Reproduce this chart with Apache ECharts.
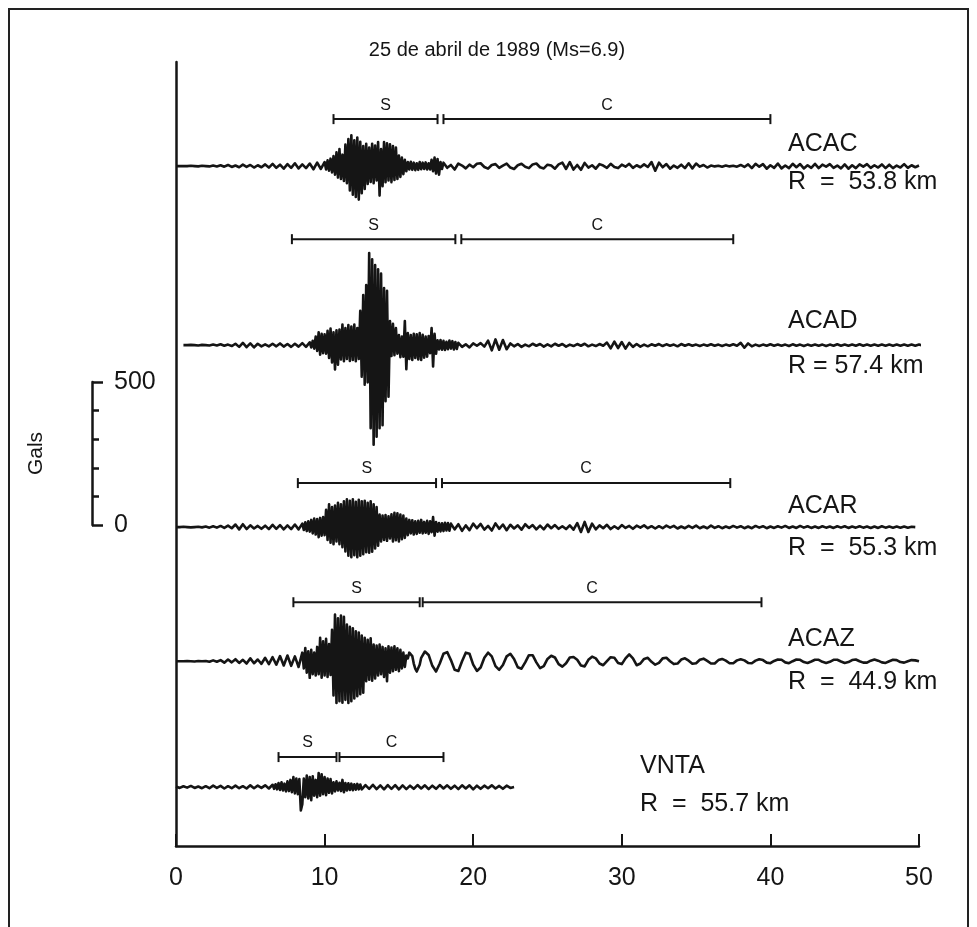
<!DOCTYPE html>
<html><head><meta charset="utf-8">
<script src="https://cdn.jsdelivr.net/npm/echarts@6/dist/echarts.min.js"></script>
<style>html,body{margin:0;padding:0;background:#fff}#c{width:977px;height:927px}</style>
</head><body><div id="c"></div>
<script>
// ---------------- DATA ----------------
const chartTitle = '25 de abril de 1989 (Ms=6.9)';
const stations = ['ACAC', 'ACAD', 'ACAR', 'ACAZ', 'VNTA'];
const distances = ['R  =  53.8 km', 'R = 57.4 km', 'R  =  55.3 km', 'R  =  44.9 km', 'R  =  55.7 km'];
const xTickLabels = [0, 10, 20, 30, 40, 50];
const scaleLabels = [0, 500];           // Gals scale bar
const axisNameY = 'Gals';
// S and C windows (seconds)
const sWindows = [[10.6, 17.6], [7.8, 18.8], [8.2, 17.5], [7.9, 16.4], [6.9, 10.8]];
const cWindows = [[18.0, 40.0], [19.2, 37.5], [17.9, 37.3], [16.6, 39.4], [11.0, 18.0]];

// Accelerograms (Gals). Each: start times of [pre, burst, post] pieces;
// pre/post sampled every 0.25 s, burst every 0.1 s.
const acacSeg = [0, 10, 18];
const acacPre = [0,0,0,0,1,0,-1,1,0,-1,2,-1, 3,-2,4,-3,2,-4,5,-3,4,-5,3,-4, 6,-5,8,-6,5,-9,7,-6,10,-8,6,-7, 9,-11,12,-10];
const acacBurst = [
 14,-12,20,-16,26,-22,35,-30,48,-40,
 60,-45,40,-52,75,-60,95,-85,108,-100,
 90,-108,100,-117,85,-95,70,-80,78,-62,
 65,-55,78,-60,72,-50,84,-103,60,-70,
 84,-56,80,-50,76,-56,70,-48,65,-45,
 37,-38,30,-28,22,-18,14,-12,15,-13,
 12,-14,10,-13,14,-11,12,-10,13,-12,
 10,-12,22,-18,30,-26,25,-30,14,-10];
const acacPost = [
 12,-6,4,-12,9,2,-8,5, -4,8,10,-3,-9,4,7,-6, 2,9,-5,-10,3,8,-2,-7, 6,9,-4,-8,5,2,-9,6,
 12,-10,14,-12,4,-13,11,-5, 3,-9,7,2,-6,8,-3,-7, 5,-2,8,-6,3,-4,6,-3, 14,-16,12,-4,7,-9,2,-6,
 5,-7,10,-8,9,-2,4,-5, 2,-1,1,-2,2,-1,1,-2, 4,-3,6,-7,8,-2,7,-9, 3,-6,9,-8,2,-7,8,-4,
 7,-8,3,-6,8,-7,5,-2, 7,-6,2,-8,6,-9,3,-7, 6,-2,7,-6,3,-5,6,-7, 5,-7,2,-5,7,-6,3,-4, 2];

const acadSeg = [0.5, 9, 19];
const acadPre = [0,0,1,0,-1,1,0,-1, 2,-1,3,-2,2,-3,5,-6, 8,-7,6,-8,5,-4,3,-4, 5,-4,6,-5,4,-6,5,-5, 7,-6];
const acadBurst = [
 10,-8,15,-12,30,-20,45,-33,40,-28,
 38,-30,50,-45,58,-60,45,-85,52,-68,
 55,-50,72,-56,60,-48,70,-55,65,-52,
 72,-56,60,-48,120,-110,175,-138,210,-130,
 322,-290,300,-348,280,-320,265,-290,250,-280,
 200,-196,190,-180,84,-38,75,-35,60,-30,
 35,-42,30,-40,84,-84,42,-48,35,-52,
 40,-45,38,-50,42,-52,36,-44,30,-40,
 32,-28,60,-74,40,-30,17,-15,18,-16,
 15,-17,12,-14,16,-12,14,-15,11,-13];
const acadPost = [
 8,-6,3,-8,6,-2,7,-5, 16,-18,20,-16,18,-14,6,-4, 4,-6,2,-4,5,-2,4,-5, 3,-4,5,-2,4,-5,2,-3,
 4,-2,5,-4,2,-3,4,-2, 9,-11,12,-10,11,-12,8,-6, 4,-5,2,-4,3,-2,4,-3, 3,-2,2,-4,4,-2,3,-2,
 2,-3,2,-2,3,-2,2,-3, 2,-2,3,-2,8,-9,6,-4, 2,-3,2,-2,3,-2,2,-2, 2,-3,3,-2,2,-3,2,-2,
 2,-2,2,-3,2,-2,3,-2, 2,-2,2,-2,3,-2,2,-2, 2,-2,2,-2,2,-2,2,-2, 2,-2,2,-2,2,-2,2,-2, 2,-1,1,0];

const acarSeg = [0, 8.5, 18.5];
const acarPre = [0,0,1,0,-1,0,1,-1, 2,-2,3,-2,4,-3,5,-4, 9,-8,10,-7,6,-5,4,-6, 5,-7,8,-6,7,-8,6,-7, 9,-8];
const acarBurst = [
 12,-10,17,-14,20,-16,25,-22,30,-26,
 28,-35,32,-30,35,-28,60,-45,80,-55,
 70,-60,75,-50,85,-60,80,-70,90,-85,
 97,-100,92,-105,97,-98,88,-105,95,-100,
 90,-95,92,-88,85,-90,90,-86,80,-75,
 70,-65,44,-50,40,-45,42,-48,38,-40,
 45,-50,50,-46,48,-50,44,-42,40,-38,
 30,-28,25,-22,24,-26,20,-24,22,-20,
 25,-22,18,-20,22,-24,20,-18,35,-30,
 18,-16,14,-15,13,-14,15,-12,14,-13];
const acarPost = [
 12,-8,10,-13,6,-11,12,-4, 11,-9,4,-12,13,-6,9,-11, 8,-5,6,-9,10,-3,7,-8, 5,-8,9,-4,7,-6,3,-7,
 6,-9,14,-17,18,-17,12,-8, 6,-4,8,-7,3,-6,7,-3, 4,-6,5,-2,6,-4,3,-5, 3,-4,5,-2,4,-5,2,-4,
 4,-3,5,-4,2,-4,5,-3, 3,-4,2,-3,4,-2,3,-4, 2,-4,4,-2,3,-4,2,-3, 3,-2,4,-3,2,-3,4,-2,
 3,-3,2,-3,3,-2,2,-3, 3,-2,3,-3,2,-2,3,-2, 2,-3,2,-3,3,-2,2,-2, 2,-2,2,-2,1,0];

const acazSeg = [0, 8.5, 16.5];
const acazPre = [0,0,0,1,0,-1,1,0, 1,-2,3,-2,4,-5,6,-4, 7,-6,5,-8,10,-7,6,-9, 12,-10,14,-12,18,-15,20,-16, 17,-20];
const acazBurst = [
 30,-25,46,-40,35,-58,40,-45,30,-50,
 50,-45,82,-58,70,-50,78,-55,60,-48,
 110,-120,163,-146,150,-140,160,-145,155,-135,
 128,-146,120,-140,115,-130,105,-122,100,-115,
 90,-110,82,-70,75,-65,80,-68,58,-60,
 55,-50,58,-45,50,-55,45,-70,52,-40,
 48,-35,52,-30,45,-35,40,-25,30,-20,
 20,10,30,36,18,-8,-26,-36,-30,-12];
const acazPost = [
 12,34,22,-16,-36,-8, 26,32,4,-30,-34,0, 30,26,-12,-34,-22,12, 30,17,-17,-30,-13,17,
 26,8,-21,-26,-4,21, 21,-4,-24,-17,8,19, 13,-10,-19,-7,13,15, 5,-15,-18,5,16,10,
 -8,-14,0,14,12,-6, -10,10,24,10,-14,-8, 8,12,-2,-12,-6,10, 12,0,-10,-8,6,10,
 2,-9,-7,5,9,1, -8,-8,4,8,2,-7, -7,3,7,3,-6,-7, 2,7,4,-5,-7,1,
 6,5,-4,-7,0,6, 5,-3,-6,-1,5,5, -2,-6,-2,5,5,-1, -6,-3,4,6,0,-5,
 -5,2,6,2,-4,-6, 0,5,4,-3,-5,0, 4,3,0];

const vntaSeg = [0, 6.5, 12.5];
const vntaPre = [2,-3,3,-2,4,-3,2,-4, 3,-4,5,-3,4,-5,3,-4, 5,-4,3,-5,6,-4,5,-3, 6,-5];
const vntaBurst = [
 8,-6,10,-8,14,-10,17,-12,12,-15,
 20,-14,25,-18,35,-22,30,-25,28,-82,
 -60,30,-35,40,-40,35,-46,38,-30,25,
 -35,49,-30,45,-25,35,-28,30,-20,28,
 -22,17,-15,20,-12,15,-14,25,-18,14,
 -12,13,-10,12,-11,10,-9,11,-8,9];
const vntaPost = [
 -8,7,-6,8,-7,6,-8,7, -6,7,-8,6,-7,5,-6,7, -5,6,-7,5,-6,7,-5,6, -6,5,-7,6,-5,6,-8,5, -6,5,-4,6,-5,4,-6,5, -3,0];

// ---------------- LAYOUT ----------------
const FONT = "'Liberation Sans', Arial, Helvetica, sans-serif";
const INK = '#151515';
const traceBase = [1262, 636, 0, -469, -909];       // baseline of each trace on the Gals axis
const bracketLift = [47, 106, 44, 59, 30];           // px above the baseline
const labelPos = [[788,144,182],[788,321,366],[788,506,548],[788,639,682],[640,766,804]];

const traces = [
  [acacSeg, acacPre, acacBurst, acacPost],
  [acadSeg, acadPre, acadBurst, acadPost],
  [acarSeg, acarPre, acarBurst, acarPost],
  [acazSeg, acazPre, acazBurst, acazPost],
  [vntaSeg, vntaPre, vntaBurst, vntaPost]
];
function buildTrace(seg, pre, burst, post, base) {
  const out = [];
  pre.forEach((v, i) => out.push([+(seg[0] + i * 0.25).toFixed(3), base + v]));
  burst.forEach((v, i) => out.push([+(seg[1] + i * 0.1).toFixed(3), base + v]));
  post.forEach((v, i) => out.push([+(seg[2] + i * 0.25).toFixed(3), base + v]));
  return out;
}

const series = traces.map((tr, k) => ({
  type: 'line', xAxisIndex: 0, yAxisIndex: 0,
  data: buildTrace(tr[0], tr[1], tr[2], tr[3], traceBase[k]),
  showSymbol: false, symbol: 'none', clip: false, sampling: null,
  lineStyle: { color: INK, width: 2.6, join: 'round' },
  silent: true, animation: false, z: 3
}));

const bracketData = [];
const bracketText = [];
stations.forEach((s, k) => {
  bracketData.push([sWindows[k][0], sWindows[k][1], traceBase[k], bracketLift[k]]); bracketText.push('S');
  bracketData.push([cWindows[k][0], cWindows[k][1], traceBase[k], bracketLift[k]]); bracketText.push('C');
});
series.push({
  type: 'custom', xAxisIndex: 0, yAxisIndex: 0, data: bracketData, clip: false, silent: true, animation: false,
  renderItem(params, api) {
    const a = api.coord([api.value(0), api.value(2)]);
    const b = api.coord([api.value(1), api.value(2)]);
    const y = a[1] - api.value(3);
    const st = { stroke: INK, lineWidth: 2 };
    return { type: 'group', children: [
      { type: 'line', shape: { x1: a[0], y1: y, x2: b[0], y2: y }, style: st },
      { type: 'line', shape: { x1: a[0], y1: y - 5, x2: a[0], y2: y + 5 }, style: st },
      { type: 'line', shape: { x1: b[0], y1: y - 5, x2: b[0], y2: y + 5 }, style: st },
      { type: 'text', style: { text: bracketText[params.dataIndex], x: (a[0] + b[0]) / 2, y: y - 14,
          align: 'center', verticalAlign: 'middle', fontSize: 16, fontFamily: FONT, fill: INK } }
    ]};
  }
});

const graphics = [
  { type: 'rect', shape: { x: 9, y: 9, width: 959, height: 960 }, style: { fill: 'none', stroke: '#222', lineWidth: 2 }, silent: true },
  { type: 'text', style: { text: chartTitle, x: 497, y: 50, align: 'center', verticalAlign: 'middle', fontSize: 20, fontFamily: FONT, fill: INK } }
];
stations.forEach((s, k) => {
  graphics.push({ type: 'text', style: { text: s, x: labelPos[k][0], y: labelPos[k][1], align: 'left', verticalAlign: 'middle', fontSize: 25, fontFamily: FONT, fill: INK } });
  graphics.push({ type: 'text', style: { text: distances[k], x: labelPos[k][0], y: labelPos[k][2], align: 'left', verticalAlign: 'middle', fontSize: 25, fontFamily: FONT, fill: INK } });
});

const option = {
  backgroundColor: '#fff',
  animation: false,
  grid: [
    { left: 176, right: 58, top: 62, bottom: 81 },
    { left: 92, width: 10, top: 382, height: 143 }
  ],
  xAxis: [
    { type: 'value', gridIndex: 0, min: xTickLabels[0], max: xTickLabels[xTickLabels.length - 1], interval: 10,
      axisLine: { show: true, onZero: false, lineStyle: { color: INK, width: 2.5 } },
      axisTick: { show: true, inside: true, length: 12, lineStyle: { color: INK, width: 2 } },
      axisLabel: { show: true, margin: 20, fontSize: 25, fontFamily: FONT, color: INK },
      splitLine: { show: false } },
    { type: 'value', gridIndex: 1, show: false, min: 0, max: 1 }
  ],
  yAxis: [
    { type: 'value', gridIndex: 0, min: -1115, max: 1626,
      axisLine: { show: true, onZero: false, lineStyle: { color: INK, width: 2.5 } },
      axisTick: { show: false }, axisLabel: { show: false }, splitLine: { show: false } },
    { type: 'value', gridIndex: 1, min: scaleLabels[0], max: scaleLabels[1], interval: 500,
      name: axisNameY, nameLocation: 'middle', nameGap: 45, nameRotate: 90,
      nameTextStyle: { fontSize: 21, fontFamily: FONT, color: INK },
      axisLine: { show: true, onZero: false, lineStyle: { color: INK, width: 2.5 } },
      axisTick: { show: true, inside: true, length: 11, lineStyle: { color: INK, width: 2.5 } },
      minorTick: { show: true, splitNumber: 5, length: 7, lineStyle: { color: INK, width: 2.5 } },
      axisLabel: { show: true, inside: true, margin: 22, fontSize: 25, fontFamily: FONT, color: INK },
      splitLine: { show: false } }
  ],
  graphic: graphics,
  series: series
};
const chart = echarts.init(document.getElementById('c'), null, { renderer: 'canvas' });
chart.setOption(option);
</script></body></html>
